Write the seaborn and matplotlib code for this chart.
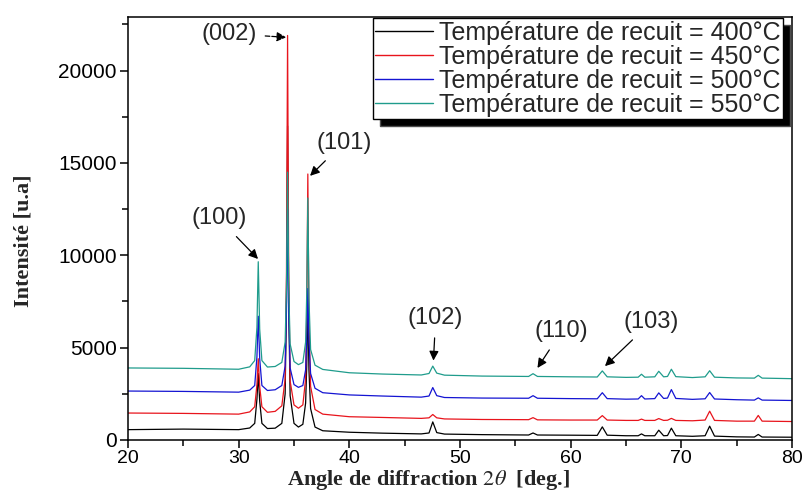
import pandas as pd
import matplotlib
matplotlib.use('Agg')
import matplotlib.pyplot as plt
import seaborn as sns
from matplotlib.ticker import MultipleLocator

angle = [20, 25, 30, 31.0, 31.45, 31.65, 31.77, 31.9, 32.1, 32.6, 33.3, 33.9, 34.2, 34.32, 34.42,
         34.52, 34.65, 35.0, 35.4, 35.8, 36.05, 36.15, 36.25, 36.35, 36.5, 36.9, 37.6, 40, 43,
         46.5, 47.2, 47.54, 47.9, 48.6, 52, 56.2, 56.6, 57.0, 60, 62.4, 62.86, 63.3, 65, 66.1,
         66.4, 66.7, 67.6, 67.96, 68.4, 68.75, 69.1, 69.5, 71, 72.15, 72.56, 73.0, 75, 76.6,
         76.95, 77.3, 80]

i_400 = [560, 590, 560, 650, 900, 2200, 3600, 2100, 900, 620, 640, 900, 2500, 7500, 17000,
         7500, 2400, 900, 700, 850, 2000, 4000, 7600, 3800, 1700, 700, 500, 420, 370,
         330, 380, 980, 400, 320, 290, 270, 380, 270, 260, 250, 710, 260, 230, 230,
         330, 230, 230, 530, 230, 240, 640, 230, 200, 230, 750, 210, 170, 160,
         300, 160, 150]

i_450 = [1460, 1440, 1400, 1520, 1800, 3000, 4400, 2900, 1800, 1500, 1550, 1850, 3300, 9000, 21900,
         9000, 3200, 1900, 1720, 1900, 3300, 6800, 14400, 6500, 2900, 1650, 1400, 1260, 1220,
         1170, 1200, 1380, 1200, 1140, 1110, 1100, 1210, 1090, 1080, 1080, 1320, 1080, 1060, 1060,
         1130, 1060, 1060, 1160, 1060, 1070, 1170, 1060, 1040, 1080, 1560, 1060, 1020, 1020,
         1330, 1020, 1000]

i_500 = [2650, 2630, 2590, 2700, 2950, 4500, 6700, 4400, 2950, 2680, 2720, 2950, 4000, 7000, 12500,
         7000, 3900, 3000, 2850, 2950, 3800, 5500, 8200, 5300, 3600, 2800, 2560, 2440, 2380,
         2320, 2380, 2840, 2400, 2300, 2270, 2260, 2400, 2260, 2240, 2230, 2560, 2240, 2210, 2220,
         2400, 2220, 2240, 2550, 2250, 2270, 2730, 2250, 2200, 2230, 2570, 2220, 2180, 2160,
         2280, 2160, 2140]

i_550 = [3900, 3880, 3830, 3960, 4300, 6100, 9650, 6000, 4300, 3950, 3980, 4200, 5300, 8300, 14500,
         8300, 5200, 4250, 4080, 4200, 5300, 7900, 13100, 7700, 4900, 4050, 3820, 3640, 3570,
         3520, 3600, 4000, 3620, 3510, 3460, 3440, 3590, 3440, 3420, 3410, 3740, 3420, 3390, 3400,
         3560, 3400, 3420, 3720, 3420, 3440, 3830, 3430, 3380, 3420, 3750, 3400, 3360, 3350,
         3500, 3350, 3320]

labels = ['Température de recuit = 400°C', 'Température de recuit = 450°C',
          'Température de recuit = 500°C', 'Température de recuit = 550°C']
couleurs = ['black', '#e8141c', '#1414d2', '#1f9c8c']

# peak labels: text, text position, arrow tip
pics = ['(002)', '(101)', '(100)', '(102)', '(110)', '(103)']
pics_txt = [(29.1, 22000), (39.5, 16100), (28.2, 12000), (47.8, 6600), (59.2, 5900), (67.3, 6400)]
pics_tip = [(34.3, 21800), (36.45, 14300), (31.75, 9800), (47.6, 4300), (57.0, 3900), (63.1, 4000)]

df = pd.DataFrame({'angle': angle * 4,
                   'intensite': i_400 + i_450 + i_500 + i_550,
                   'serie': [l for l in labels for _ in angle]})

sns.set_theme(style='ticks')
plt.rcParams['font.family'] = ['Liberation Sans', 'DejaVu Sans']
plt.rcParams['mathtext.fontset'] = 'stix'

fig = plt.figure(figsize=(8.03, 4.97), dpi=100)
ax = fig.add_axes([0.1594, 0.1147, 0.8269, 0.8511])

sns.lineplot(data=df, x='angle', y='intensite', hue='serie', hue_order=labels,
             palette=dict(zip(labels, couleurs)), estimator=None, linewidth=0.9, ax=ax)

ax.set_xlim(20, 80)
ax.set_ylim(0, 22900)
ax.xaxis.set_major_locator(MultipleLocator(10))
ax.xaxis.set_minor_locator(MultipleLocator(5))
ax.yaxis.set_major_locator(MultipleLocator(5000))
ax.yaxis.set_minor_locator(MultipleLocator(2500))
ax.tick_params(which='major', length=6, width=1.1, labelsize=15, color='black', labelcolor='black')
ax.tick_params(which='minor', length=4, width=1.1, color='black')
ax.tick_params(axis='y', pad=2)
ax.tick_params(axis='x', pad=1.5, labelsize=14)
for s in ax.spines.values():
    s.set_color('black')
    s.set_linewidth(1.1)

ax.set_xlabel(r'Angle de diffraction $\mathit{2\theta}$  [deg.]', fontsize=16, fontweight='bold',
              family='Liberation Serif')
ax.set_ylabel('Intensité [u.a]', fontsize=16, fontweight='bold', family='Liberation Serif')
ax.xaxis.set_label_coords(0.452, -0.066)
ax.yaxis.set_label_coords(-0.143, 0.47)

for nom, txt, tip in zip(pics, pics_txt, pics_tip):
    style = '--' if nom == '(002)' else '-'
    ax.annotate(nom, xy=tip, xytext=txt, ha='center', va='center', fontsize=17,
                arrowprops=dict(arrowstyle='-|>', color='black', lw=0.9, linestyle=style,
                                mutation_scale=14, shrinkA=4, shrinkB=0))

leg = ax.legend(loc='upper right', bbox_to_anchor=(0.987, 0.997), fontsize=18, frameon=True,
                fancybox=False, edgecolor='black', handlelength=2.3, labelspacing=0.0,
                borderpad=0.1, handletextpad=0.25, borderaxespad=0.0,
                shadow={'ox': 5, 'oy': -5, 'facecolor': 'black', 'alpha': 1})
leg.get_frame().set_linewidth(1.0)
for h in leg.get_lines():
    h.set_linewidth(1.0)

plt.savefig('out.png', dpi=100)
